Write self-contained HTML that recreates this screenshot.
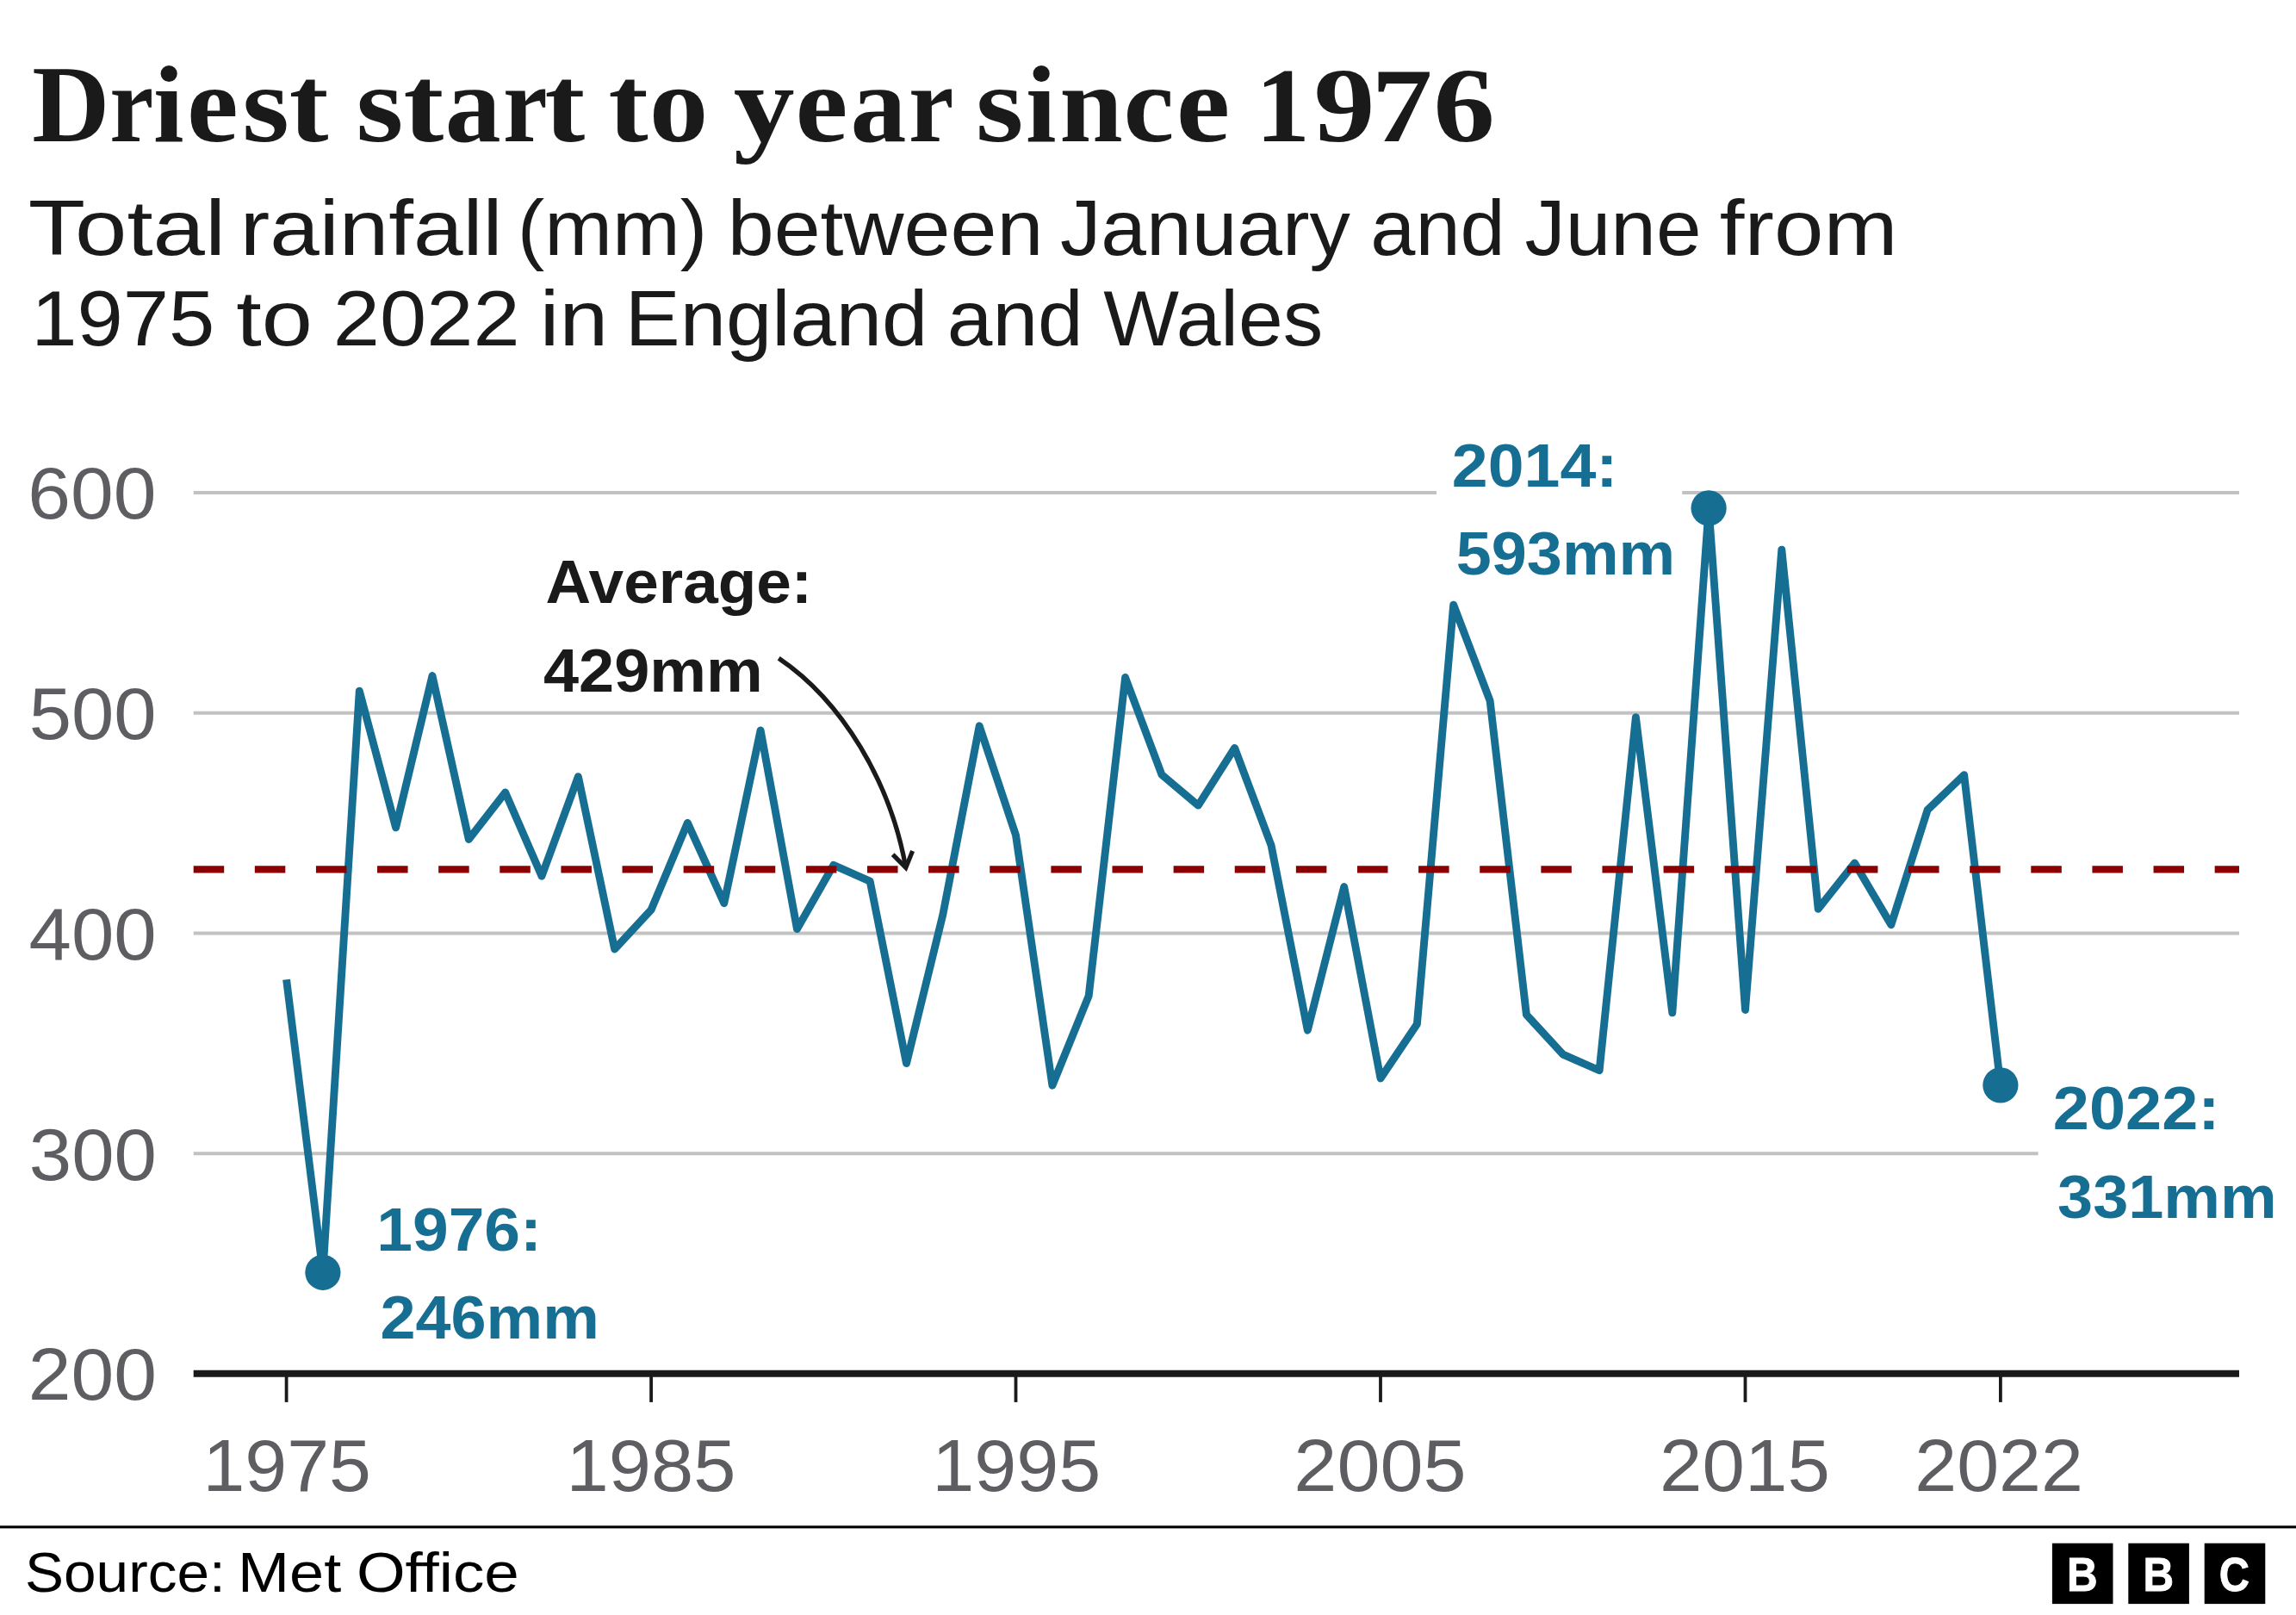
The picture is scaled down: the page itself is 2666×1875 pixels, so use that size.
<!DOCTYPE html>
<html><head><meta charset="utf-8"><title>Driest start to year since 1976</title>
<style>html,body{margin:0;padding:0;background:#fff}body{width:2666px;height:1875px;overflow:hidden;font-family:"Liberation Sans",sans-serif}svg{display:block}</style></head>
<body>
<svg width="2666" height="1875" viewBox="0 0 2666 1875">
<rect width="2666" height="1875" fill="#fff"/>
<line x1="224.7" x2="2600.0" y1="572.0" y2="572.0" stroke="#c2c2c2" stroke-width="4"/>
<line x1="224.7" x2="2600.0" y1="827.7" y2="827.7" stroke="#c2c2c2" stroke-width="4"/>
<line x1="224.7" x2="2600.0" y1="1083.5" y2="1083.5" stroke="#c2c2c2" stroke-width="4"/>
<line x1="224.7" x2="2600.0" y1="1339.2" y2="1339.2" stroke="#c2c2c2" stroke-width="4"/>
<rect x="1668" y="500" width="285.2" height="180" fill="#fff"/>
<rect x="2366.6" y="1250" width="300" height="180" fill="#fff"/>
<line x1="224.7" x2="2600.0" y1="1594.75" y2="1594.75" stroke="#1a1a1a" stroke-width="7.8"/>
<line x1="332.6" x2="332.6" y1="1594.75" y2="1627.9" stroke="#1a1a1a" stroke-width="3.8"/>
<line x1="756.1" x2="756.1" y1="1594.75" y2="1627.9" stroke="#1a1a1a" stroke-width="3.8"/>
<line x1="1179.5" x2="1179.5" y1="1594.75" y2="1627.9" stroke="#1a1a1a" stroke-width="3.8"/>
<line x1="1603.0" x2="1603.0" y1="1594.75" y2="1627.9" stroke="#1a1a1a" stroke-width="3.8"/>
<line x1="2026.5" x2="2026.5" y1="1594.75" y2="1627.9" stroke="#1a1a1a" stroke-width="3.8"/>
<line x1="2322.9" x2="2322.9" y1="1594.75" y2="1627.9" stroke="#1a1a1a" stroke-width="3.8"/>
<polyline points="332.6,1137.2 374.9,1477.3 417.3,802.1 459.6,960.9 502.0,784.5 544.3,974.5 586.7,920.0 629.0,1017.2 671.4,901.6 713.7,1102.0 756.1,1056.3 798.4,955.3 840.8,1048.7 883.1,847.9 925.5,1078.6 967.8,1004.4 1010.2,1023.1 1052.5,1234.6 1094.8,1062.0 1137.2,842.8 1179.5,969.6 1221.9,1260.2 1264.2,1156.1 1306.6,786.5 1348.9,899.3 1391.3,935.1 1433.6,868.4 1476.0,981.2 1518.3,1196.2 1560.7,1029.5 1603.0,1252.0 1645.4,1188.9 1687.7,702.1 1730.1,813.6 1772.4,1178.1 1814.7,1224.1 1857.1,1242.8 1899.4,832.6 1941.8,1175.9 1984.1,589.9 2026.5,1172.5 2068.8,638.2 2111.2,1055.3 2153.5,1001.9 2195.9,1073.7 2238.2,940.2 2280.6,899.6 2322.9,1259.9" fill="none" stroke="#166e93" stroke-width="8.9" stroke-linejoin="round" stroke-linecap="butt"/>
<circle cx="374.9" cy="1477.3" r="20.6" fill="#166e93"/>
<circle cx="1984.1" cy="589.9" r="20.6" fill="#166e93"/>
<circle cx="2322.9" cy="1259.9" r="20.6" fill="#166e93"/>
<line x1="224.7" x2="2600.0" y1="1009.4" y2="1009.4" stroke="#8b0000" stroke-width="8.4" stroke-dasharray="35.5 35.62"/>
<path d="M904.2 764.2 C978 814 1034 908 1051.8 1007.4" fill="none" stroke="#1a1a1a" stroke-width="5.3"/>
<path d="M1036.65 992.07 L1051.8 1007.4 L1059.6 987.95" fill="none" stroke="#1a1a1a" stroke-width="5.2" stroke-linejoin="miter" stroke-miterlimit="10"/>
<text y="164.00" font-family="'Liberation Serif', serif" font-weight="bold" font-size="126" fill="#1a1a1a"><tspan x="37.22" textLength="90.02" lengthAdjust="spacingAndGlyphs">D</tspan><tspan x="127.26" textLength="51.13" lengthAdjust="spacingAndGlyphs">r</tspan><tspan x="178.05" textLength="35.60" lengthAdjust="spacingAndGlyphs">i</tspan><tspan x="217.13" textLength="59.70" lengthAdjust="spacingAndGlyphs">e</tspan><tspan x="281.24" textLength="54.65" lengthAdjust="spacingAndGlyphs">s</tspan><tspan x="335.72" textLength="45.73" lengthAdjust="spacingAndGlyphs">t</tspan> <tspan x="413.42" textLength="54.88" lengthAdjust="spacingAndGlyphs">s</tspan><tspan x="468.57" textLength="46.81" lengthAdjust="spacingAndGlyphs">t</tspan><tspan x="516.77" textLength="64.99" lengthAdjust="spacingAndGlyphs">a</tspan><tspan x="584.03" textLength="51.69" lengthAdjust="spacingAndGlyphs">r</tspan><tspan x="632.57" textLength="46.81" lengthAdjust="spacingAndGlyphs">t</tspan> <tspan x="706.60" textLength="46.17" lengthAdjust="spacingAndGlyphs">t</tspan><tspan x="753.86" textLength="68.59" lengthAdjust="spacingAndGlyphs">o</tspan> <tspan x="851.78" textLength="70.85" lengthAdjust="spacingAndGlyphs">y</tspan><tspan x="923.64" textLength="60.96" lengthAdjust="spacingAndGlyphs">e</tspan><tspan x="987.47" textLength="64.99" lengthAdjust="spacingAndGlyphs">a</tspan><tspan x="1054.90" textLength="50.34" lengthAdjust="spacingAndGlyphs">r</tspan> <tspan x="1132.98" textLength="55.47" lengthAdjust="spacingAndGlyphs">s</tspan><tspan x="1191.05" textLength="35.60" lengthAdjust="spacingAndGlyphs">i</tspan><tspan x="1230.15" textLength="73.53" lengthAdjust="spacingAndGlyphs">n</tspan><tspan x="1304.59" textLength="58.91" lengthAdjust="spacingAndGlyphs">c</tspan><tspan x="1365.73" textLength="62.56" lengthAdjust="spacingAndGlyphs">e</tspan> <tspan x="1457.80" textLength="63.44" lengthAdjust="spacingAndGlyphs" font-size="122">1</tspan><tspan x="1525.61" textLength="70.94" lengthAdjust="spacingAndGlyphs" font-size="122">9</tspan><tspan x="1592.47" textLength="70.81" lengthAdjust="spacingAndGlyphs" font-size="122">7</tspan><tspan x="1664.31" textLength="71.59" lengthAdjust="spacingAndGlyphs" font-size="122">6</tspan></text>
<text y="296.00" font-family="'Liberation Sans', sans-serif" font-weight="normal" font-size="91.6" fill="#1a1a1a"><tspan x="32.73" textLength="229.36" lengthAdjust="spacingAndGlyphs">Total</tspan> <tspan x="278.72" textLength="304.85" lengthAdjust="spacingAndGlyphs">rainfall</tspan> <tspan x="600.81" textLength="220.49" lengthAdjust="spacingAndGlyphs">(mm)</tspan> <tspan x="844.75" textLength="366.62" lengthAdjust="spacingAndGlyphs">between</tspan> <tspan x="1231.03" textLength="336.84" lengthAdjust="spacingAndGlyphs">January</tspan> <tspan x="1591.30" textLength="156.47" lengthAdjust="spacingAndGlyphs">and</tspan> <tspan x="1770.54" textLength="205.00" lengthAdjust="spacingAndGlyphs">June</tspan> <tspan x="1996.77" textLength="206.71" lengthAdjust="spacingAndGlyphs">from</tspan></text>
<text y="400.60" font-family="'Liberation Sans', sans-serif" font-weight="normal" font-size="91.6" fill="#1a1a1a"><tspan x="36.28" textLength="213.06" lengthAdjust="spacingAndGlyphs">1975</tspan> <tspan x="274.34" textLength="88.70" lengthAdjust="spacingAndGlyphs">to</tspan> <tspan x="386.88" textLength="216.68" lengthAdjust="spacingAndGlyphs">2022</tspan> <tspan x="626.83" textLength="79.27" lengthAdjust="spacingAndGlyphs">in</tspan> <tspan x="725.73" textLength="351.72" lengthAdjust="spacingAndGlyphs">England</tspan> <tspan x="1099.77" textLength="157.96" lengthAdjust="spacingAndGlyphs">and</tspan> <tspan x="1281.39" textLength="254.84" lengthAdjust="spacingAndGlyphs">Wales</tspan></text>
<text y="602.35" font-family="'Liberation Sans', sans-serif" font-weight="normal" font-size="84.5" fill="#5e5e62"><tspan x="32.26" textLength="149.32" lengthAdjust="spacingAndGlyphs">600</tspan></text>
<text y="858.10" font-family="'Liberation Sans', sans-serif" font-weight="normal" font-size="84.5" fill="#5e5e62"><tspan x="33.70" textLength="147.95" lengthAdjust="spacingAndGlyphs">500</tspan></text>
<text y="1113.85" font-family="'Liberation Sans', sans-serif" font-weight="normal" font-size="84.5" fill="#5e5e62"><tspan x="33.50" textLength="148.15" lengthAdjust="spacingAndGlyphs">400</tspan></text>
<text y="1369.60" font-family="'Liberation Sans', sans-serif" font-weight="normal" font-size="84.5" fill="#5e5e62"><tspan x="33.85" textLength="148.11" lengthAdjust="spacingAndGlyphs">300</tspan></text>
<text y="1625.35" font-family="'Liberation Sans', sans-serif" font-weight="normal" font-size="84.5" fill="#5e5e62"><tspan x="32.77" textLength="149.21" lengthAdjust="spacingAndGlyphs">200</tspan></text>
<text y="1731.30" font-family="'Liberation Sans', sans-serif" font-weight="normal" font-size="84.5" fill="#5e5e62"><tspan x="235.46" textLength="195.48" lengthAdjust="spacingAndGlyphs">1975</tspan></text>
<text y="1731.30" font-family="'Liberation Sans', sans-serif" font-weight="normal" font-size="84.5" fill="#5e5e62"><tspan x="657.52" textLength="196.86" lengthAdjust="spacingAndGlyphs">1985</tspan></text>
<text y="1731.30" font-family="'Liberation Sans', sans-serif" font-weight="normal" font-size="84.5" fill="#5e5e62"><tspan x="1082.24" textLength="196.12" lengthAdjust="spacingAndGlyphs">1995</tspan></text>
<text y="1731.30" font-family="'Liberation Sans', sans-serif" font-weight="normal" font-size="84.5" fill="#5e5e62"><tspan x="1502.34" textLength="200.20" lengthAdjust="spacingAndGlyphs">2005</tspan></text>
<text y="1731.30" font-family="'Liberation Sans', sans-serif" font-weight="normal" font-size="84.5" fill="#5e5e62"><tspan x="1927.09" textLength="197.80" lengthAdjust="spacingAndGlyphs">2015</tspan></text>
<text y="1731.30" font-family="'Liberation Sans', sans-serif" font-weight="normal" font-size="84.5" fill="#5e5e62"><tspan x="2223.24" textLength="195.62" lengthAdjust="spacingAndGlyphs">2022</tspan></text>
<text y="699.50" font-family="'Liberation Sans', sans-serif" font-weight="bold" font-size="70.5" fill="#1a1a1a"><tspan x="633.63" textLength="309.52" lengthAdjust="spacingAndGlyphs">Average:</tspan></text>
<text y="802.60" font-family="'Liberation Sans', sans-serif" font-weight="bold" font-size="70.5" fill="#1a1a1a"><tspan x="630.95" textLength="254.96" lengthAdjust="spacingAndGlyphs">429mm</tspan></text>
<text y="564.50" font-family="'Liberation Sans', sans-serif" font-weight="bold" font-size="70.5" fill="#166e93"><tspan x="1685.87" textLength="192.45" lengthAdjust="spacingAndGlyphs">2014:</tspan></text>
<text y="666.90" font-family="'Liberation Sans', sans-serif" font-weight="bold" font-size="70.5" fill="#166e93"><tspan x="1690.81" textLength="254.28" lengthAdjust="spacingAndGlyphs">593mm</tspan></text>
<text y="1311.00" font-family="'Liberation Sans', sans-serif" font-weight="bold" font-size="70.5" fill="#166e93"><tspan x="2383.85" textLength="193.60" lengthAdjust="spacingAndGlyphs">2022:</tspan></text>
<text y="1413.80" font-family="'Liberation Sans', sans-serif" font-weight="bold" font-size="70.5" fill="#166e93"><tspan x="2389.10" textLength="254.59" lengthAdjust="spacingAndGlyphs">331mm</tspan></text>
<text y="1451.60" font-family="'Liberation Sans', sans-serif" font-weight="bold" font-size="70.5" fill="#166e93"><tspan x="437.25" textLength="191.73" lengthAdjust="spacingAndGlyphs">1976:</tspan></text>
<text y="1554.20" font-family="'Liberation Sans', sans-serif" font-weight="bold" font-size="70.5" fill="#166e93"><tspan x="441.51" textLength="254.28" lengthAdjust="spacingAndGlyphs">246mm</tspan></text>
<text y="1847.50" font-family="'Liberation Sans', sans-serif" font-weight="normal" font-size="65" fill="#000"><tspan x="28.98" textLength="232.86" lengthAdjust="spacingAndGlyphs">Source:</tspan> <tspan x="275.95" textLength="120.25" lengthAdjust="spacingAndGlyphs">Met</tspan> <tspan x="413.94" textLength="188.86" lengthAdjust="spacingAndGlyphs">Office</tspan></text>
<rect x="0" y="1771.3" width="2666" height="3.1" fill="#000"/>
<rect x="2382.9" y="1791.7" width="70.6" height="70.4" fill="#000"/>
<text transform="translate(2417.8 1846.7) scale(0.875 1)" font-family="'Liberation Sans', sans-serif" font-weight="bold" font-size="56.4" fill="#fff" stroke="#fff" stroke-width="0.9" text-anchor="middle">B</text>
<rect x="2471.3" y="1791.7" width="70.6" height="70.4" fill="#000"/>
<text transform="translate(2506.2 1846.7) scale(0.875 1)" font-family="'Liberation Sans', sans-serif" font-weight="bold" font-size="56.4" fill="#fff" stroke="#fff" stroke-width="0.9" text-anchor="middle">B</text>
<rect x="2559.7" y="1791.7" width="70.6" height="70.4" fill="#000"/>
<text transform="translate(2594.4 1846.7) scale(0.865 1)" font-family="'Liberation Sans', sans-serif" font-weight="bold" font-size="56.4" fill="#fff" stroke="#fff" stroke-width="0.9" text-anchor="middle">C</text>
</svg>
</body></html>
